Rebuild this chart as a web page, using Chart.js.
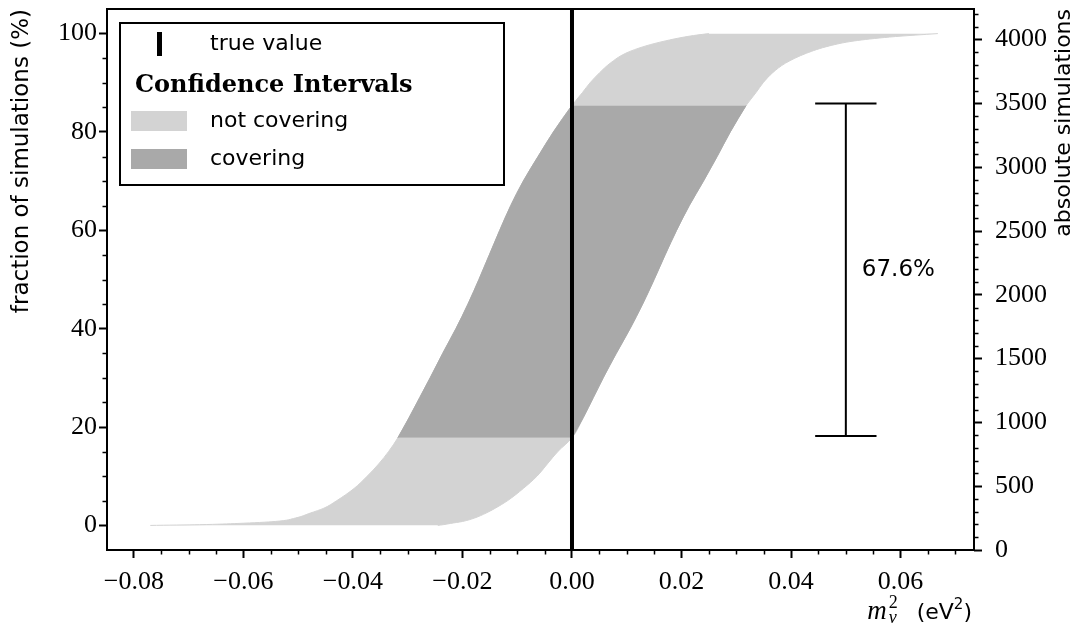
<!DOCTYPE html>
<html>
<head>
<meta charset="utf-8">
<script src="https://cdn.jsdelivr.net/npm/chart.js@4.4.1/dist/chart.umd.min.js"></script>
<style>
  html, body { margin: 0; padding: 0; background: #fff; }
</style>
</head>
<body>
<canvas id="graficoCobertura" width="1081" height="628"></canvas>
<script>
// Fracción de simulaciones (%) en la que se leyeron los límites ordenados
const niveles = [0, 0.15, 0.4, 0.8, 1.5, 2.5, 3.5, 5, 7.5, 10, 12.5, 15, 17.8, 22, 26, 30, 35, 40, 45, 50,
  55, 60, 65, 70, 75, 80, 85.4, 88, 90, 92, 94, 96, 97.5, 98.5, 99.3, 99.7, 100];

// Límite inferior de cada intervalo de confianza (eV^2)
const limiteInferior = [-0.0770, -0.0680, -0.0610, -0.0542, -0.0505, -0.0478, -0.0453, -0.0430, -0.0398,
  -0.0374, -0.0353, -0.0335, -0.0318, -0.0297, -0.0278, -0.0259, -0.0236, -0.0212, -0.0190, -0.0170,
  -0.0151, -0.0132, -0.0112, -0.0089, -0.0062, -0.0034, 0.0000, 0.0019, 0.0033, 0.0050, 0.0070,
  0.0098, 0.0135, 0.0170, 0.0205, 0.0228, 0.0250];

// Límite superior de cada intervalo de confianza (eV^2)
const limiteSuperior = [-0.0245, -0.0235, -0.0222, -0.0200, -0.0178, -0.0157, -0.0140, -0.0118, -0.0089,
  -0.0064, -0.0045, -0.0026, 0.0000, 0.0021, 0.0039, 0.0057, 0.0081, 0.0106, 0.0129, 0.0150,
  0.0170, 0.0191, 0.0214, 0.0240, 0.0265, 0.0289, 0.0318, 0.0336, 0.0349, 0.0366, 0.0390,
  0.0428, 0.0470, 0.0515, 0.0580, 0.0628, 0.0668];

const valorVerdadero = 0;
const posicionBarra = 0.05;
const barraCobertura = [18.2, 85.8];   // % de simulaciones
const ticksX = [-0.08, -0.06, -0.04, -0.02, 0.00, 0.02, 0.04, 0.06];
const ticksY = [0, 20, 40, 60, 80, 100];
const ticksAbs = [0, 500, 1000, 1500, 2000, 2500, 3000, 3500, 4000];

const GRIS_CLARO = '#d3d3d3';
const GRIS_OSCURO = '#a9a9a9';
const SERIF = '"Liberation Serif", "DejaVu Serif", serif';
const SANS = '"DejaVu Sans", sans-serif';

const puntos = (xs) => niveles.map((y, i) => ({ x: xs[i], y }));
const cubre = (i) => limiteInferior[i] <= valorVerdadero && limiteSuperior[i] >= valorVerdadero;
const puntosCubren = (xs) => puntos(xs).filter((p, i) => cubre(i));

const cobertura = (barraCobertura[1] - barraCobertura[0]).toFixed(1) + '%';

// sin márgenes extra: el área del gráfico la fijan los anchos de los ejes
const fijarTamano = (prop, valor) => (s) => {
  s[prop] = valor;
  s.paddingTop = 0; s.paddingBottom = 0; s.paddingLeft = 0; s.paddingRight = 0;
};

// Ticks menores, marco y textos que Chart.js no hace solo
const extras = {
  id: 'extras',
  afterDraw(chart) {
    const { ctx, chartArea: a, scales } = chart;
    ctx.save();
    ctx.strokeStyle = '#000';
    ctx.fillStyle = '#000';

    // ticks menores
    ctx.lineWidth = 1.5;
    ctx.beginPath();
    for (let k = -16; k <= 14; k++) {
      if (k % 4 === 0) continue;
      const px = Math.round(scales.x.getPixelForValue(k * 0.005)) + 0.5;
      if (px < a.left || px > a.right) continue;
      ctx.moveTo(px, a.bottom); ctx.lineTo(px, a.bottom + 4.5);
    }
    for (let k = 1; k < 21; k++) {
      if (k % 4 === 0) continue;
      const py = Math.round(scales.y.getPixelForValue(k * 5)) + 0.5;
      ctx.moveTo(a.left, py); ctx.lineTo(a.left - 4.5, py);
    }
    for (let k = 1; k <= 42; k++) {
      if (k % 5 === 0) continue;
      const py = Math.round(scales.y2.getPixelForValue(k * 100)) + 0.5;
      if (py < a.top) continue;
      ctx.moveTo(a.right, py); ctx.lineTo(a.right + 4.5, py);
    }
    ctx.stroke();

    // marco de los ejes
    ctx.lineWidth = 2;
    ctx.strokeRect(a.left, a.top, a.right - a.left, a.bottom - a.top);

    // etiqueta de la barra de cobertura
    ctx.font = '23px ' + SANS;
    ctx.textAlign = 'left';
    ctx.textBaseline = 'middle';
    const yMedio = scales.y.getPixelForValue((barraCobertura[0] + barraCobertura[1]) / 2);
    ctx.fillText(cobertura, scales.x.getPixelForValue(posicionBarra) + 16, yMedio);

    // título eje x: m_nu^2 (eV^2)
    const base = 619;
    const fM = 'italic 27px ' + SERIF, fIdx = 'italic 18px ' + SERIF, fNum = '18px ' + SERIF;
    const fS = '22px ' + SANS, fSup = '15px ' + SANS;
    const w = (f, t) => { ctx.font = f; return ctx.measureText(t).width; };
    const wM = w(fM, 'm');
    const wIdx = Math.max(w(fNum, '2'), w(fIdx, 'ν'));
    const wTxt = w(fS, '(eV');
    const wSup = w(fSup, '2');
    const wCierre = w(fS, ')');
    const hueco = 19;
    let x = a.right - 2 - (wM + 2 + wIdx + hueco + wTxt + wSup + wCierre);
    ctx.textBaseline = 'alphabetic';
    ctx.font = fM; ctx.fillText('m', x, base); x += wM + 2;
    ctx.font = fNum; ctx.fillText('2', x, base - 11);
    ctx.font = fIdx; ctx.fillText('ν', x, base + 4); x += wIdx + hueco;
    ctx.font = fS; ctx.fillText('(eV', x, base); x += wTxt;
    ctx.font = fSup; ctx.fillText('2', x, base - 10); x += wSup;
    ctx.font = fS; ctx.fillText(')', x, base);

    // título eje derecho, girado como el izquierdo
    ctx.save();
    ctx.translate(1064, a.top);
    ctx.rotate(-Math.PI / 2);
    ctx.font = '22px ' + SANS;
    ctx.textAlign = 'right';
    ctx.textBaseline = 'middle';
    ctx.fillText('absolute simulations', 0, 0);
    ctx.restore();

    // leyenda
    const L = { x: a.left + 13, y: a.top + 14, w: 384, h: 162 };
    ctx.fillStyle = '#fff';
    ctx.fillRect(L.x, L.y, L.w, L.h);
    ctx.lineWidth = 2;
    ctx.strokeRect(L.x, L.y, L.w, L.h);
    ctx.fillStyle = '#000';
    ctx.fillRect(L.x + 37, L.y + 9, 5, 24);
    ctx.font = '22px ' + SANS;
    ctx.textBaseline = 'middle';
    ctx.fillText(chart.data.datasets[0].label, L.x + 90, L.y + 21);
    ctx.font = 'bold 24px "DejaVu Serif", serif';
    ctx.textBaseline = 'alphabetic';
    ctx.fillText('Confidence Intervals', L.x + 15, L.y + 69);
    ctx.fillStyle = GRIS_CLARO;
    ctx.fillRect(L.x + 11, L.y + 88, 56, 20);
    ctx.fillStyle = GRIS_OSCURO;
    ctx.fillRect(L.x + 11, L.y + 126, 56, 20);
    ctx.fillStyle = '#000';
    ctx.font = '22px ' + SANS;
    ctx.textBaseline = 'middle';
    ctx.fillText(chart.data.datasets[7].label, L.x + 90, L.y + 98);
    ctx.fillText(chart.data.datasets[5].label, L.x + 90, L.y + 136);
    ctx.restore();
  }
};

const linea = (extra) => Object.assign({
  pointRadius: 0, borderWidth: 1, fill: false, tension: 0
}, extra);

const ctxGrafico = document.getElementById('graficoCobertura');

new Chart(ctxGrafico, {
  type: 'line',
  data: {
    datasets: [
      linea({ label: 'true value', data: [{ x: valorVerdadero, y: -5 }, { x: valorVerdadero, y: 105 }],
        borderColor: '#000', borderWidth: 4 }),
      linea({ label: 'barra', data: [{ x: posicionBarra, y: barraCobertura[0] }, { x: posicionBarra, y: barraCobertura[1] }],
        borderColor: '#000', borderWidth: 2 }),
      linea({ label: 'tope inferior', data: [{ x: posicionBarra - 0.0056, y: barraCobertura[0] }, { x: posicionBarra + 0.0056, y: barraCobertura[0] }],
        borderColor: '#000', borderWidth: 2 }),
      linea({ label: 'tope superior', data: [{ x: posicionBarra - 0.0056, y: barraCobertura[1] }, { x: posicionBarra + 0.0056, y: barraCobertura[1] }],
        borderColor: '#000', borderWidth: 2 }),
      linea({ label: 'covering (lower)', data: puntosCubren(limiteInferior),
        borderColor: GRIS_OSCURO, cubicInterpolationMode: 'monotone' }),
      linea({ label: 'covering', data: puntosCubren(limiteSuperior),
        borderColor: GRIS_OSCURO, backgroundColor: GRIS_OSCURO, fill: '-1', cubicInterpolationMode: 'monotone' }),
      linea({ label: 'not covering (lower)', data: puntos(limiteInferior),
        borderColor: GRIS_CLARO, cubicInterpolationMode: 'monotone' }),
      linea({ label: 'not covering', data: puntos(limiteSuperior),
        borderColor: GRIS_CLARO, backgroundColor: GRIS_CLARO, fill: '-1', cubicInterpolationMode: 'monotone' })
    ]
  },
  options: {
    indexAxis: 'y',
    responsive: false,
    animation: false,
    devicePixelRatio: 1,
    layout: { padding: { top: 9, left: 0, right: 0, bottom: 0 } },
    plugins: { legend: { display: false }, tooltip: { enabled: false } },
    scales: {
      x: {
        type: 'linear', position: 'bottom', min: -0.0849, max: 0.0734,
        afterFit: fijarTamano('height', 78),
        afterBuildTicks: (s) => { s.ticks = ticksX.map(v => ({ value: v })); },
        border: { display: false },
        grid: { drawOnChartArea: false, tickLength: 8, tickWidth: 2, tickColor: '#000' },
        ticks: {
          autoSkip: false, maxRotation: 0, padding: 9, color: '#000',
          font: { family: SERIF, size: 26 },
          callback: (v) => (Math.abs(v) < 1e-9 ? '0.00' : v.toFixed(2).replace('-', '\u2212'))
        }
      },
      y: {
        type: 'linear', position: 'left', min: -5, max: 105,
        afterFit: fijarTamano('width', 107),
        afterBuildTicks: (s) => { s.ticks = ticksY.map(v => ({ value: v })); },
        border: { display: false },
        grid: { drawOnChartArea: false, tickLength: 8, tickWidth: 2, tickColor: '#000' },
        ticks: { autoSkip: false, padding: 2, color: '#000', font: { family: SERIF, size: 26 } },
        title: {
          display: true, text: 'fraction of simulations (%)', align: 'end', color: '#000',
          font: { family: SANS, size: 23 }, padding: { top: 8, bottom: 0 }
        }
      },
      y2: {
        type: 'linear', position: 'right', min: 0, max: 4240,
        afterFit: fijarTamano('width', 107),
        afterBuildTicks: (s) => { s.ticks = ticksAbs.map(v => ({ value: v })); },
        border: { display: false },
        grid: { drawOnChartArea: false, tickLength: 8, tickWidth: 2, tickColor: '#000' },
        ticks: {
          autoSkip: false, padding: 13, color: '#000', font: { family: SERIF, size: 26 },
          callback: (v) => String(v)
        }
      }
    }
  },
  plugins: [extras]
});
</script>
</body>
</html>
